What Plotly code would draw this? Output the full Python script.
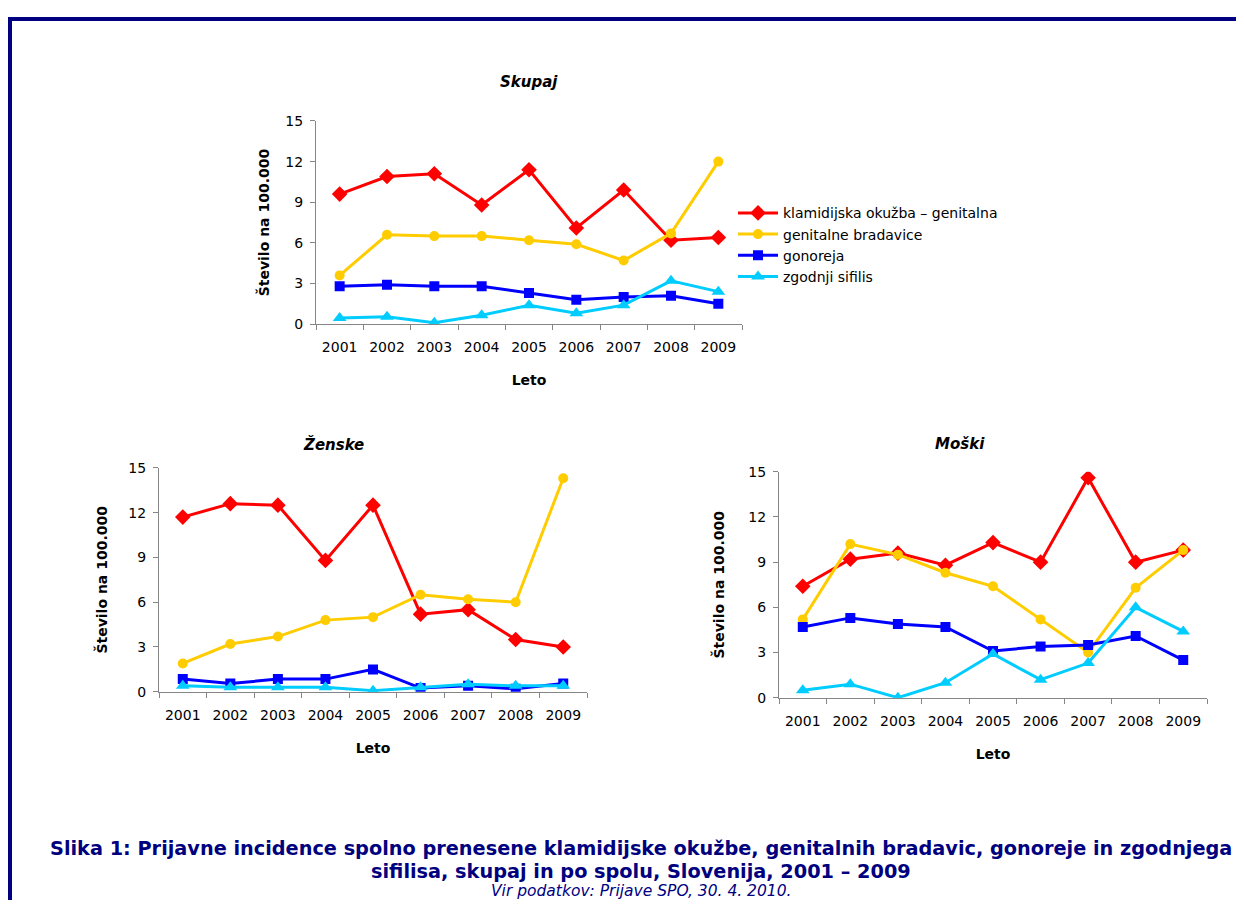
import plotly.graph_objects as go

years = ["2001", "2002", "2003", "2004", "2005", "2006", "2007", "2008", "2009"]
series_names = ["klamidijska okužba – genitalna", "genitalne bradavice", "gonoreja", "zgodnji sifilis"]

# Skupaj
skupaj_klamidija = [9.6, 10.9, 11.1, 8.8, 11.4, 7.1, 9.9, 6.2, 6.4]
skupaj_bradavice = [3.6, 6.6, 6.5, 6.5, 6.2, 5.9, 4.7, 6.7, 12.0]
skupaj_gonoreja = [2.8, 2.9, 2.8, 2.8, 2.3, 1.8, 2.0, 2.1, 1.5]
skupaj_sifilis = [0.45, 0.55, 0.1, 0.65, 1.4, 0.8, 1.4, 3.2, 2.4]

# Ženske
zenske_klamidija = [11.7, 12.6, 12.5, 8.8, 12.5, 5.2, 5.5, 3.5, 3.0]
zenske_bradavice = [1.9, 3.2, 3.7, 4.8, 5.0, 6.5, 6.2, 6.0, 14.3]
zenske_gonoreja = [0.85, 0.55, 0.85, 0.85, 1.5, 0.25, 0.4, 0.2, 0.55]
zenske_sifilis = [0.4, 0.3, 0.3, 0.3, 0.07, 0.3, 0.5, 0.4, 0.4]

# Moški
moski_klamidija = [7.4, 9.2, 9.6, 8.8, 10.3, 9.0, 14.6, 9.0, 9.8]
moski_bradavice = [5.2, 10.2, 9.5, 8.3, 7.4, 5.2, 3.0, 7.3, 9.8]
moski_gonoreja = [4.7, 5.3, 4.9, 4.7, 3.1, 3.4, 3.5, 4.1, 2.5]
moski_sifilis = [0.5, 0.9, 0.0, 1.0, 2.9, 1.2, 2.3, 6.0, 4.4]

y_ticks = [0, 3, 6, 9, 12, 15]

colors = ["#FF0000", "#FFCC00", "#0000FF", "#00CCFF"]
symbols = ["diamond", "circle", "square", "triangle-up"]
msizes = [12, 10, 10, 12]

# page has an 8px body margin; figure sized to fit the window
OFF = 8
W, H = 1228, 900
FONT = "DejaVu Sans, sans-serif"


def px(X):
    return (X - OFF) / W


def py(Y, corr=True):
    # target page y -> paper fraction (with a mild vertical correction)
    Yi = (Y + (Y - 6.2) / 0.9825) / 2 if corr else Y
    Yi = min(max(Yi, OFF + 2), OFF + H - 8)
    return 1 - (Yi - OFF) / H


panels = [
    ("Skupaj", [skupaj_klamidija, skupaj_bradavice, skupaj_gonoreja, skupaj_sifilis],
     (316, 742), (117, 322), True, (529, 78), 12),
    ("Ženske", [zenske_klamidija, zenske_bradavice, zenske_gonoreja, zenske_sifilis],
     (159, 587), (467, 693), False, (333, 443), 17),
    ("Moški", [moski_klamidija, moski_bradavice, moski_gonoreja, moski_sifilis],
     (779, 1207), (471, 699), False, (960, 443), 20),
]

fig = go.Figure()
layout = dict(
    width=W, height=H,
    margin=dict(l=0, r=0, t=0, b=0),
    paper_bgcolor="white", plot_bgcolor="white",
    font=dict(family=FONT, size=14, color="black"),
    showlegend=True,
    legend=dict(x=px(733), y=py(194), xanchor="left", yanchor="top",
                font=dict(size=14), tracegroupgap=0, bgcolor="rgba(0,0,0,0)",
                itemwidth=40),
)
annotations = []

for i, (title, data, (x0, x1), (y0, y1), legend, (tx, ty), ystand) in enumerate(panels):
    sfx = "" if i == 0 else str(i + 1)
    for k in range(4):
        fig.add_trace(go.Scatter(
            x=years, y=data[k], name=series_names[k], mode="lines+markers",
            line=dict(color=colors[k], width=3),
            marker=dict(symbol=symbols[k], size=msizes[k], color=colors[k]),
            xaxis="x" + sfx, yaxis="y" + sfx, showlegend=legend,
        ))
    layout["xaxis" + sfx] = dict(
        domain=[px(x0), px(x1)], anchor="y" + sfx, type="category",
        range=[-0.5, 8.5], tickson="boundaries", ticks="outside", ticklen=5,
        tickcolor="#868686", showline=True, linecolor="#868686", linewidth=1,
        showgrid=False, zeroline=False, tickfont=dict(size=14), ticklabelstandoff=10,
        title=dict(text="Leto", font=dict(size=14, weight="bold"), standoff=21),
    )
    layout["yaxis" + sfx] = dict(
        domain=[py(y1), py(y0)], anchor="x" + sfx, range=[0, 15],
        tickvals=y_ticks, ticks="outside", ticklen=5, tickcolor="#868686",
        showline=True, linecolor="#868686", linewidth=1, showgrid=False,
        zeroline=False, tickfont=dict(size=14), ticklabelstandoff=4,
        title=dict(text="Število na 100.000", font=dict(size=14, weight="bold"), standoff=ystand),
    )
    annotations.append(dict(
        text=title, x=px(tx), y=py(ty), xref="paper", yref="paper",
        xanchor="center", yanchor="middle",
        showarrow=False, font=dict(size=15, weight="bold", style="italic"),
    ))

annotations += [
    dict(text="Slika 1: Prijavne incidence spolno prenesene klamidijske okužbe, genitalnih bradavic, gonoreje in zgodnjega",
         x=px(641), y=py(856, False), xref="paper", yref="paper", showarrow=False,
         xanchor="center", yanchor="middle",
         font=dict(size=19.3, weight="bold", color="#00007F")),
    dict(text="sifilisa, skupaj in po spolu, Slovenija, 2001 – 2009",
         x=px(641), y=py(879, False), xref="paper", yref="paper", showarrow=False,
         xanchor="center", yanchor="middle",
         font=dict(size=19.3, weight="bold", color="#00007F")),
    dict(text="Vir podatkov: Prijave SPO, 30. 4. 2010.",
         x=px(641), y=py(899, False), xref="paper", yref="paper", showarrow=False,
         xanchor="center", yanchor="middle",
         font=dict(size=15.5, style="italic", color="#00007F")),
]
layout["annotations"] = annotations
layout["shapes"] = [
    dict(type="line", xref="paper", yref="paper", x0=px(5), x1=1, y0=py(14), y1=py(14),
         line=dict(color="#000080", width=4)),
    dict(type="line", xref="paper", yref="paper", x0=px(10), x1=px(10), y0=0, y1=py(14),
         line=dict(color="#000080", width=4)),
]
fig.update_layout(**layout)
fig.write_html("out.html")
